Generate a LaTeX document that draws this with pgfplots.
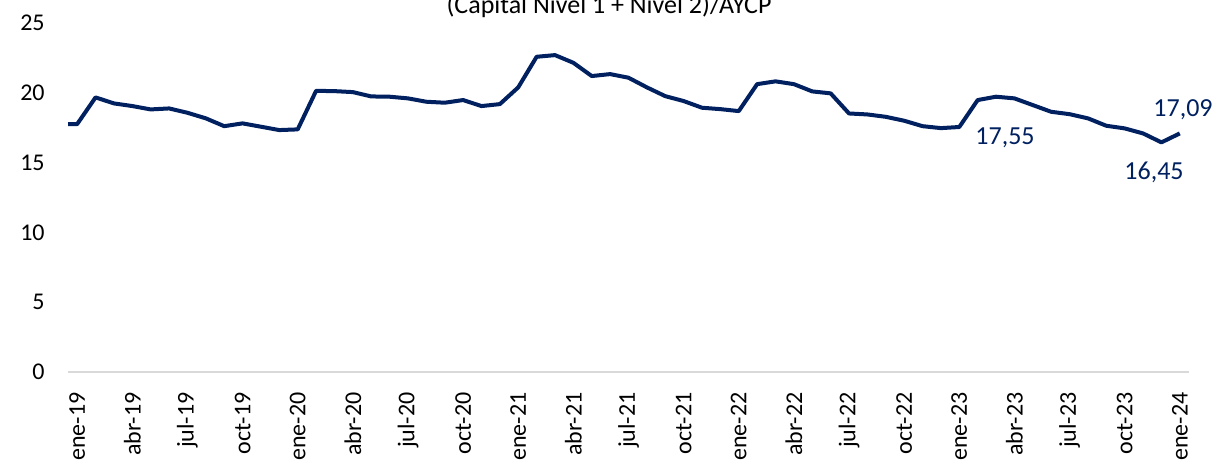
\documentclass[border=0pt]{standalone}
\usepackage{fontspec}
\setmainfont{Carlito}
\usepackage{pgfplots}
\pgfplotsset{compat=1.18}
\definecolor{navy}{HTML}{002060}
\definecolor{axisgray}{HTML}{D9D9D9}

% monthly ratio, dic-18 (-1) to ene-24 (60)
\begin{document}
\begin{tikzpicture}
\useasboundingbox (-34pt,-47.5pt) rectangle (575pt,186pt);
\begin{axis}[
    scale only axis,
    width=560.5pt,
    height=174.5pt,
    xmin=-0.5, xmax=60.5,
    ymin=0, ymax=25,
    ytick={0,5,...,25},
    xtick={0,3,...,60},
    xticklabels={ene-19,abr-19,jul-19,oct-19,ene-20,abr-20,jul-20,oct-20,ene-21,abr-21,jul-21,oct-21,ene-22,abr-22,jul-22,oct-22,ene-23,abr-23,jul-23,oct-23,ene-24},
    separate axis lines,
    axis x line*=bottom,
    axis y line*=left,
    x axis line style={draw=axisgray, line width=0.7pt, -},
    y axis line style={draw=none},
    major tick length=0pt,
    tick style={draw=none},
    /pgf/number format/assume math mode=true,
    ticklabel style={font=\fontsize{12}{14}\selectfont, text=black},
    xticklabel style={rotate=90, anchor=east, inner sep=0pt},
    xticklabel shift=10pt,
    yticklabel style={inner sep=0pt},
    yticklabel shift=11.5pt,
]
\addplot[navy, line width=2pt, line join=round, mark=none] coordinates {
(-1,17.76) (0,17.76) (1,19.67) (2,19.24) (3,19.05) (4,18.81) (5,18.88)
(6,18.57) (7,18.17) (8,17.61) (9,17.81) (10,17.57) (11,17.33) (12,17.38)
(13,20.14) (14,20.12) (15,20.05) (16,19.74) (17,19.72) (18,19.60) (19,19.36)
(20,19.29) (21,19.48) (22,19.05) (23,19.19) (24,20.39) (25,22.58) (26,22.70)
(27,22.15) (28,21.20) (29,21.34) (30,21.08) (31,20.39) (32,19.76) (33,19.41)
(34,18.93) (35,18.83) (36,18.69) (37,20.62) (38,20.82) (39,20.62) (40,20.10)
(41,19.96) (42,18.52) (43,18.45) (44,18.28) (45,18.00) (46,17.61) (47,17.47)
(48,17.55) (49,19.48) (50,19.72) (51,19.60) (52,19.12) (53,18.64) (54,18.47)
(55,18.17) (56,17.64) (57,17.45) (58,17.09) (59,16.45) (60,17.09)
};
\end{axis}
\begin{scope}[every node/.style={font=\fontsize{13}{15}\selectfont, text=navy}]
\node at ({(1005-68)*0.5pt},{(372-138)*0.5pt}) {17,55};
\node at ({(1154-68)*0.5pt},{(372-172)*0.5pt}) {16,45};
\node at ({(1183-68)*0.5pt},{(372-110)*0.5pt}) {17,09};
\end{scope}
\node[anchor=base, font=\fontsize{13}{15}\selectfont] at (270.5pt,179pt) {(Capital Nivel 1 + Nivel 2)/AYCP};
\end{tikzpicture}
\end{document}
